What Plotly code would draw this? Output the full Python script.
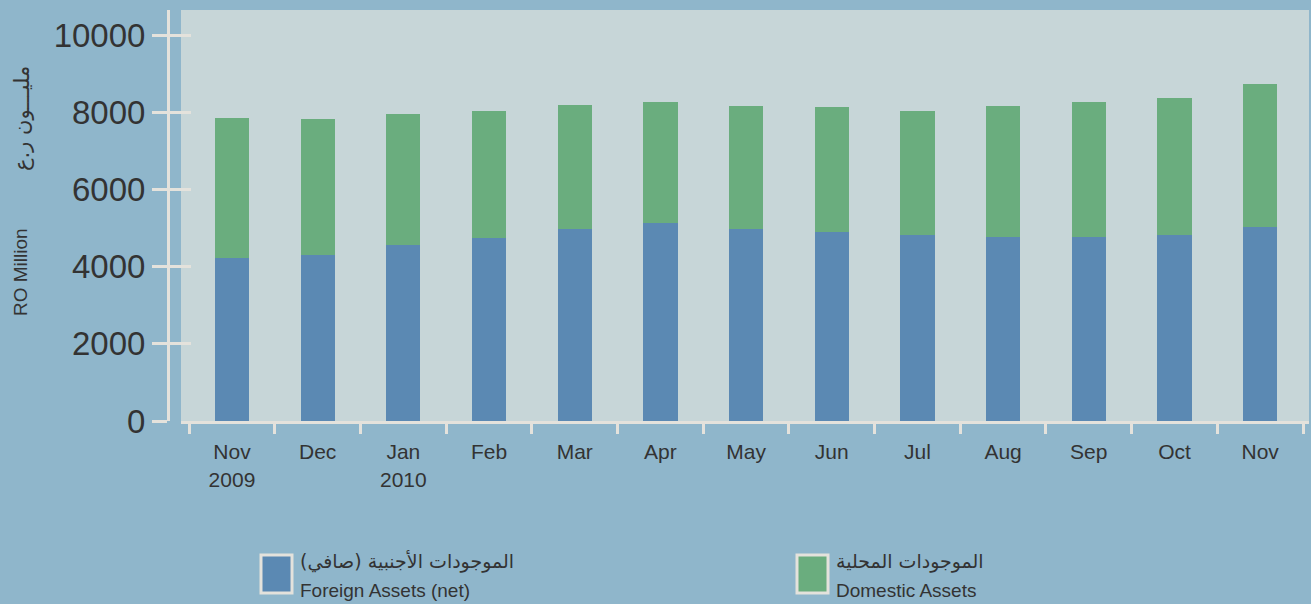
import plotly.graph_objects as go

# ---- data ----
months = ["Nov<br>2009", "Dec", "Jan<br>2010", "Feb", "Mar", "Apr", "May",
          "Jun", "Jul", "Aug", "Sep", "Oct", "Nov"]
foreign_assets = [4220, 4300, 4560, 4740, 4970, 5130, 4970, 4900, 4820, 4770, 4770, 4820, 5030]
domestic_assets = [3630, 3520, 3390, 3290, 3215, 3135, 3190, 3235, 3210, 3390, 3495, 3550, 3700]
y_ticks = [0, 2000, 4000, 6000, 8000, 10000]
series_ar = ["الموجودات الأجنبية (صافي)", "الموجودات المحلية"]
series_en = ["Foreign Assets (net)", "Domestic Assets"]
y_title_en = "RO Million"
y_title_ar = "مليـــون ر.ع"

# ---- style ----
W, H = 1311, 604
ML, MR, MT, MB = 140, 2, 10, 183
PW = W - ML - MR
PH = H - MT - MB
BG = "#8fb6cb"
PLOT_BG = "#c7d6d8"
BLUE = "#5b89b3"
GREEN = "#6aad7e"
AXIS = "#e4e2dc"
TXT = "#333333"
SANS = "Liberation Sans, Arial, sans-serif"
ARAB = "DejaVu Sans, sans-serif"


def px_x(p):
    return (p - ML) / PW


def px_y(p):
    return (H - MB - p) / PH


fig = go.Figure()
fig.add_trace(go.Bar(x=months, y=foreign_assets, name=series_en[0],
                     marker=dict(color=BLUE, line=dict(width=0)), width=0.4))
fig.add_trace(go.Bar(x=months, y=domestic_assets, name=series_en[1],
                     marker=dict(color=GREEN, line=dict(width=0)), width=0.4))
# helper (invisible) trace so the overlaying y-axis is drawn
fig.add_trace(go.Scatter(x=months[:1], y=foreign_assets[:1], yaxis="y2",
                         mode="markers", marker=dict(opacity=0),
                         hoverinfo="skip", showlegend=False))

ypos = px_x(168)
fig.update_layout(
    width=W, height=H,
    margin=dict(l=ML, r=MR, t=MT, b=MB),
    paper_bgcolor=BG, plot_bgcolor=PLOT_BG,
    barmode="stack", showlegend=False,
    xaxis=dict(domain=[px_x(181), 1], type="category",
               range=[-0.595, 12.57],
               showline=True, linecolor=AXIS, linewidth=3,
               ticks="outside", ticklen=10, tickwidth=3, tickcolor=AXIS,
               tickson="boundaries", showgrid=False, ticklabelstandoff=10,
               tickfont=dict(family=SANS, size=21, color=TXT)),
    yaxis=dict(range=[0, 10650], anchor="free", position=ypos,
               showline=True, linecolor=AXIS, linewidth=3,
               ticks="outside", ticklen=15, tickwidth=3, tickcolor=AXIS,
               tickvals=y_ticks, tickformat="d", showgrid=False, zeroline=False,
               tickfont=dict(family=SANS, size=33, color=TXT)),
    yaxis2=dict(range=[0, 10650], overlaying="y", anchor="free", position=ypos,
                showline=False, ticks="inside", ticklen=22, tickwidth=3,
                tickcolor=AXIS, tickvals=y_ticks, showticklabels=False,
                showgrid=False, zeroline=False),
)

# y-axis titles
fig.add_annotation(x=px_x(20), y=px_y(272), xref="paper", yref="paper",
                   xanchor="center", yanchor="middle",
                   text=y_title_en, textangle=-90, showarrow=False,
                   font=dict(family=SANS, size=19, color=TXT))
fig.add_annotation(x=px_x(22), y=px_y(119), xref="paper", yref="paper",
                   xanchor="center", yanchor="middle",
                   text=y_title_ar, textangle=-90, showarrow=False,
                   font=dict(family=ARAB, size=21, color=TXT))

# custom legend
legend_x = [261, 797]
legend_colors = [BLUE, GREEN]
for i in range(2):
    x0 = legend_x[i]
    fig.add_shape(type="rect", xref="paper", yref="paper",
                  x0=px_x(x0), x1=px_x(x0 + 31), y0=px_y(555), y1=px_y(593),
                  fillcolor=legend_colors[i], line=dict(color=AXIS, width=3))
    fig.add_annotation(x=px_x(x0 + 37), y=px_y(561), xref="paper", yref="paper",
                       xanchor="left", yanchor="middle",
                       text=series_ar[i], showarrow=False,
                       font=dict(family=ARAB, size=19, color=TXT))
    fig.add_annotation(x=px_x(x0 + 37), y=px_y(590), xref="paper", yref="paper",
                       xanchor="left", yanchor="middle",
                       text=series_en[i], showarrow=False,
                       font=dict(family=SANS, size=19, color=TXT))

fig.write_html("out.html", config={"displayModeBar": False},
               post_script="document.body.style.margin='0';"
                           "document.body.style.background='#8fb6cb';")
